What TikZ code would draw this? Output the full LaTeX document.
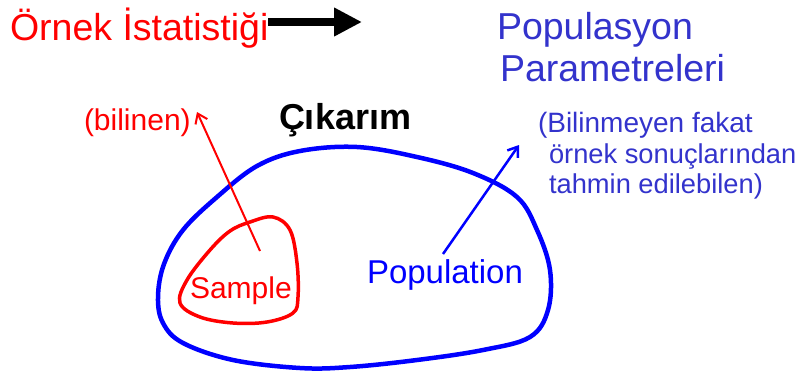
\documentclass[tikz,border=0pt]{standalone}
\usepackage{fontspec}
\setmainfont{Liberation Sans}
\usetikzlibrary{arrows.meta, positioning}
\definecolor{paramblue}{RGB}{51,51,204}

\begin{document}
\begin{tikzpicture}[
    x=1pt, y=-1pt,
    txt/.style={anchor=base west, inner sep=0pt, outer sep=0pt},
    title/.style={txt, font=\fontsize{37.5}{40}\selectfont},
    note/.style={txt, font=\fontsize{27.3}{31}\selectfont},
    blob/.style={line width=4.5pt, line join=round},
    pointer/.style={-{Straight Barb[length=9pt, width=13pt]}, line width=2.5pt},
    >=Stealth
]
\useasboundingbox (0,0) rectangle (795,376);

% Top row: statistic -> parameters
\node[title, red] (ornek) at (10, 40) {Örnek İstatistiği};
\node[title, paramblue] (populasyon) at (497, 39) {Populasyon};
\node[title, paramblue] (parametre) at (500, 81) {Parametreleri};
\coordinate (ornekend) at (362, 22);

% Middle row: labels
\node[txt, red, font=\fontsize{30}{34}\selectfont] (bilinen) at (84, 130) {(bilinen)};
\node[txt, font=\fontsize{36}{40}\selectfont\bfseries] (cikarim) at (279, 129) {Çıkarım};
\node[note, paramblue, font=\fontsize{28}{31}\selectfont] (bilinmeyen) at (538, 132) {(Bilinmeyen fakat};
\node[note, paramblue] (sonuc) at (549, 163) {örnek sonuçlarından};
\node[note, paramblue] (tahmin) at (549, 193) {tahmin edilebilen)};

% Sets
\draw[blob, blue] plot[smooth cycle, tension=0.6] coordinates {
    (158,297) (164,264) (183,230) (217,197) (257,166) (300,151) (357,147)
    (417,157) (473,173) (517,197) (537,230) (550,270) (548,310) (530,337)
    (483,350) (417,360) (350,367) (300,368) (233,360) (183,343) (163,323)};
\draw[blob, red, line width=3.5pt] plot[smooth cycle, tension=0.6] coordinates {
    (180,303) (187,280) (210,250) (230,231) (250,222) (273,217) (290,230)
    (297,263) (298,297) (293,313) (267,322) (233,323) (200,317)};
\node[txt, red, font=\fontsize{30}{34}\selectfont] (sample) at (190, 298) {Sample};
\node[txt, blue, font=\fontsize{33}{36}\selectfont] (population) at (367, 283) {Population};

% Pointer ends
\coordinate (samplept) at (260, 251);
\coordinate (bilinenpt) at (197, 112);
\coordinate (populationpt) at (443, 254);
\coordinate (bilinmeyenpt) at (519, 145);

% Edges
\draw[-{Triangle[length=28pt, width=27pt]}, line width=8pt] (ornek.east |- ornekend) -- (ornekend);
\draw[pointer, red, line width=2pt] (samplept) -- (bilinenpt);
\draw[pointer, blue] (populationpt) -- (bilinmeyenpt);

\end{tikzpicture}
\end{document}
